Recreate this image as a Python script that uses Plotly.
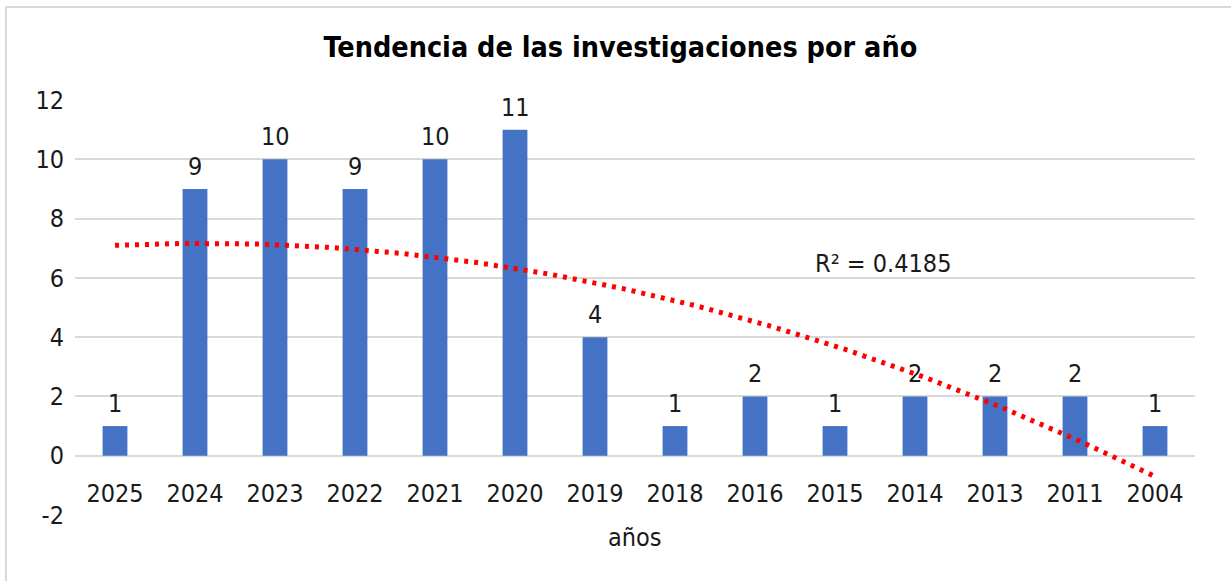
import numpy as np
import plotly.graph_objects as go

years = ["2025", "2024", "2023", "2022", "2021", "2020", "2019",
         "2018", "2016", "2015", "2014", "2013", "2011", "2004"]
counts = [1, 9, 10, 9, 10, 11, 4, 1, 2, 1, 2, 2, 2, 1]
y_ticks = [-2, 0, 2, 4, 6, 8, 10, 12]
y_tick_text = ["-2", "0", "2", "4", "6", "8", "10", "12"]
title_text = "Tendencia de las investigaciones por año"
x_title = "años"
r2_label = "R² = 0.4185"

FONT = "DejaVu Sans Condensed"
BAR = "#4472C4"
GRID = "#d9d9d9"
TXT = "#1a1a1a"

idx = np.arange(len(years))
# polynomial (order 2) trendline fitted to the bar values, like Excel
coef = np.polyfit(idx + 1, counts, 2)
xs = np.linspace(0, len(years) - 1, 300)
ys = np.polyval(coef, xs + 1)

fig = go.Figure()
fig.add_trace(go.Bar(
    x=idx, y=counts, width=0.31, marker=dict(color=BAR, line=dict(width=0)),
    showlegend=False,
))
fig.add_trace(go.Scatter(
    x=xs, y=ys, mode="lines", line=dict(color="#ff0000", width=5, dash="4px,6px"),
    showlegend=False, hoverinfo="skip",
))

for i, c in zip(idx, counts):
    fig.add_annotation(x=i, y=c, text=str(c), showarrow=False, yanchor="bottom",
                       yshift=6, font=dict(family=FONT, size=25, color=TXT))

fig.add_annotation(x=9.6, y=6.5, text=r2_label, showarrow=False,
                   font=dict(family=FONT, size=25, color=TXT))
fig.add_annotation(x=0.5, xref="paper", y=-0.055, yref="paper", yanchor="middle",
                   text=x_title, showarrow=False,
                   font=dict(family=FONT, size=25, color=TXT))

# light frame around the chart
fig.add_shape(type="rect", xref="paper", yref="paper",
              x0=(6 - 75) / 1120, x1=(1240 - 75) / 1120,
              y0=(515 - 590) / 415, y1=(515 - 7) / 415,
              line=dict(color=GRID, width=2), fillcolor="rgba(0,0,0,0)", layer="below")

fig.update_layout(
    width=1231, height=581,
    margin=dict(l=75, r=36, t=100, b=66),
    paper_bgcolor="white", plot_bgcolor="white",
    title=dict(text="<b>" + title_text + "</b>", x=0.504, xanchor="center",
               y=1 - 47 / 581, yanchor="middle", yref="container",
               font=dict(family=FONT, size=28.5, color="#000000")),
    xaxis=dict(
        tickmode="array", tickvals=idx, ticktext=years,
        range=[-0.5, len(years) - 0.5], showgrid=False, zeroline=False,
        showline=False, ticks="", anchor="free", position=2 / 14,
        tickfont=dict(family=FONT, size=25, color=TXT), ticklabelstandoff=20,
    ),
    yaxis=dict(
        range=[-2, 12], tickvals=y_ticks, ticktext=y_tick_text,
        showgrid=True, gridcolor=GRID, gridwidth=2,
        zeroline=False, showline=False, ticks="",
        tickfont=dict(family=FONT, size=25, color=TXT), ticklabelstandoff=10,
    ),
)

fig.write_html("out.html")
